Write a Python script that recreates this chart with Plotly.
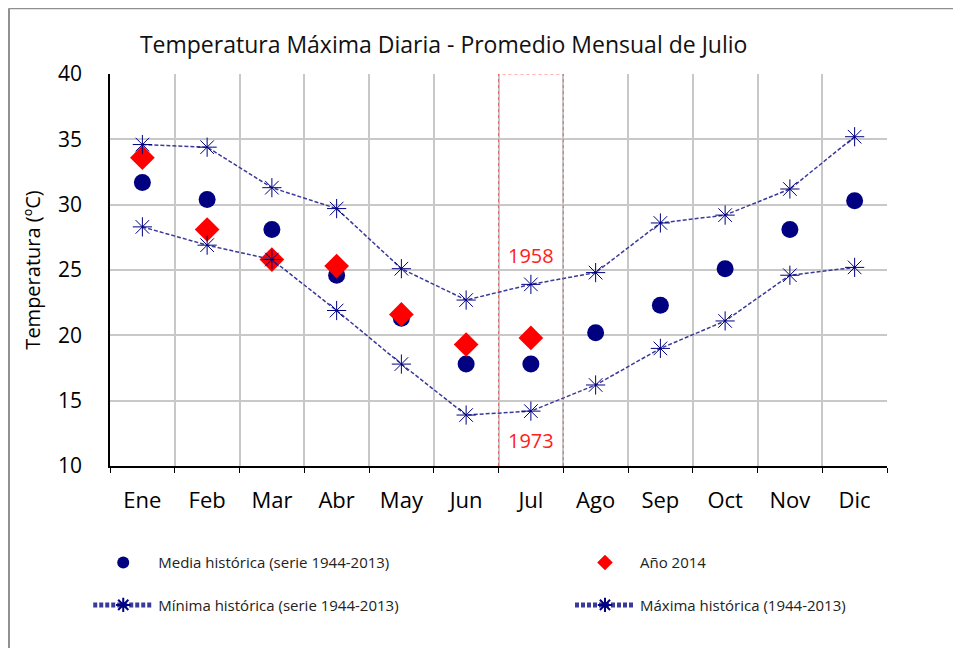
import plotly.graph_objects as go

# Monthly data (ºC)
meses = ['Ene', 'Feb', 'Mar', 'Abr', 'May', 'Jun', 'Jul', 'Ago', 'Sep', 'Oct', 'Nov', 'Dic']
media_hist = [31.7, 30.4, 28.1, 24.6, 21.3, 17.8, 17.8, 20.2, 22.3, 25.1, 28.1, 30.3]
anio_2014 = [33.6, 28.1, 25.8, 25.3, 21.6, 19.3, 19.8]
minima_hist = [28.3, 26.9, 25.8, 21.9, 17.8, 13.9, 14.2, 16.2, 19.0, 21.1, 24.6, 25.2]
maxima_hist = [34.6, 34.4, 31.3, 29.7, 25.1, 22.7, 23.9, 24.8, 28.6, 29.2, 31.2, 35.2]

# Record years for July
anio_max_jul = '1958'
anio_min_jul = '1973'
mes_destacado = 'Jul'

NAVY = '#000080'
LINE = '#3a3a9a'
FONT = 'Open Sans'

fig = go.Figure()

fig.add_trace(go.Scatter(
    x=meses, y=media_hist, mode='markers', name='Media histórica (serie 1944-2013)',
    marker=dict(symbol='circle', size=17, color=NAVY), legend='legend2'))
fig.add_trace(go.Scatter(
    x=meses[:len(anio_2014)], y=anio_2014, mode='markers', name='Año 2014',
    marker=dict(symbol='diamond', size=19, color='#ff0000'), legend='legend3'))
fig.add_trace(go.Scatter(
    x=meses, y=minima_hist, mode='lines+markers', name='Mínima histórica (serie 1944-2013)',
    line=dict(color=LINE, width=1.5, dash='4px,2px'),
    marker=dict(symbol='asterisk-open', size=16, color=NAVY, line=dict(width=1, color=NAVY)),
    legend='legend4'))
fig.add_trace(go.Scatter(
    x=meses, y=maxima_hist, mode='lines+markers', name='Máxima histórica (1944-2013)',
    line=dict(color=LINE, width=1.5, dash='4px,2px'),
    marker=dict(symbol='asterisk-open', size=16, color=NAVY, line=dict(width=1, color=NAVY)),
    legend='legend5'))

jul_i = meses.index(mes_destacado)

# highlight box around July (extends below the axis to include the label)
fig.add_shape(type='rect', xref='x', yref='y',
              x0=jul_i - 0.5, x1=jul_i + 0.5, y0=5.3, y1=40,
              line=dict(color='rgba(255,60,60,0.75)', width=1, dash='dot'),
              fillcolor='rgba(0,0,0,0)', layer='above')

fig.add_annotation(x=mes_destacado, y=maxima_hist[jul_i], text=anio_max_jul,
                   showarrow=False, yshift=29, font=dict(color='#ff2020', size=20, family=FONT))
fig.add_annotation(x=mes_destacado, y=minima_hist[jul_i], text=anio_min_jul,
                   showarrow=False, yshift=-29, font=dict(color='#ff2020', size=20, family=FONT))

# outer chart frame
fig.add_shape(type='line', xref='paper', yref='paper', x0=-0.13, x1=-0.13, y0=-0.49, y1=1.168,
              line=dict(color='#909090', width=2))
fig.add_shape(type='line', xref='paper', yref='paper', x0=-0.13, x1=1.1, y0=1.168, y1=1.168,
              line=dict(color='#909090', width=2))

leg_style = dict(orientation='h', xanchor='left', yanchor='middle', itemwidth=60,
                 itemsizing='constant', font=dict(size=15, family=FONT, color='#222'),
                 bgcolor='rgba(0,0,0,0)')

# the page body adds an 8px offset, so the figure is sized to fit inside it
fig.update_layout(
    width=945, height=640,
    margin=dict(l=102, r=66, t=66, b=182, autoexpand=False),
    plot_bgcolor='white', paper_bgcolor='white',
    font=dict(family=FONT, color='black'),
    title=dict(text='Temperatura Máxima Diaria - Promedio Mensual de Julio',
               x=0.461, xref='container', xanchor='center',
               y=0.942, yref='container', yanchor='middle',
               font=dict(size=23, family=FONT, color='#111')),
    legend2=dict(x=-0.028, y=-0.247, **leg_style),
    legend3=dict(x=0.592, y=-0.247, **leg_style),
    legend4=dict(x=-0.028, y=-0.355, **leg_style),
    legend5=dict(x=0.592, y=-0.355, **leg_style),
)

fig.update_xaxes(
    type='category', categoryorder='array', categoryarray=meses,
    tickson='boundaries', showgrid=True, gridcolor='#c8c8c8', gridwidth=1.5,
    showline=True, linecolor='black', linewidth=1.5, mirror=False,
    ticks='outside', ticklen=5, tickcolor='black',
    ticklabelstandoff=14, tickfont=dict(size=22, family=FONT),
    range=[-0.5, 11.5])

fig.update_yaxes(
    range=[10, 40], dtick=5, showgrid=True, gridcolor='#c8c8c8', gridwidth=1.5,
    showline=True, linecolor='black', linewidth=1.5, zeroline=False,
    ticks='', ticklabelstandoff=22, tickfont=dict(size=21, family=FONT),
    title=dict(text='Temperatura (ºC)', font=dict(size=20, family=FONT), standoff=12))

fig.write_html('out.html')
